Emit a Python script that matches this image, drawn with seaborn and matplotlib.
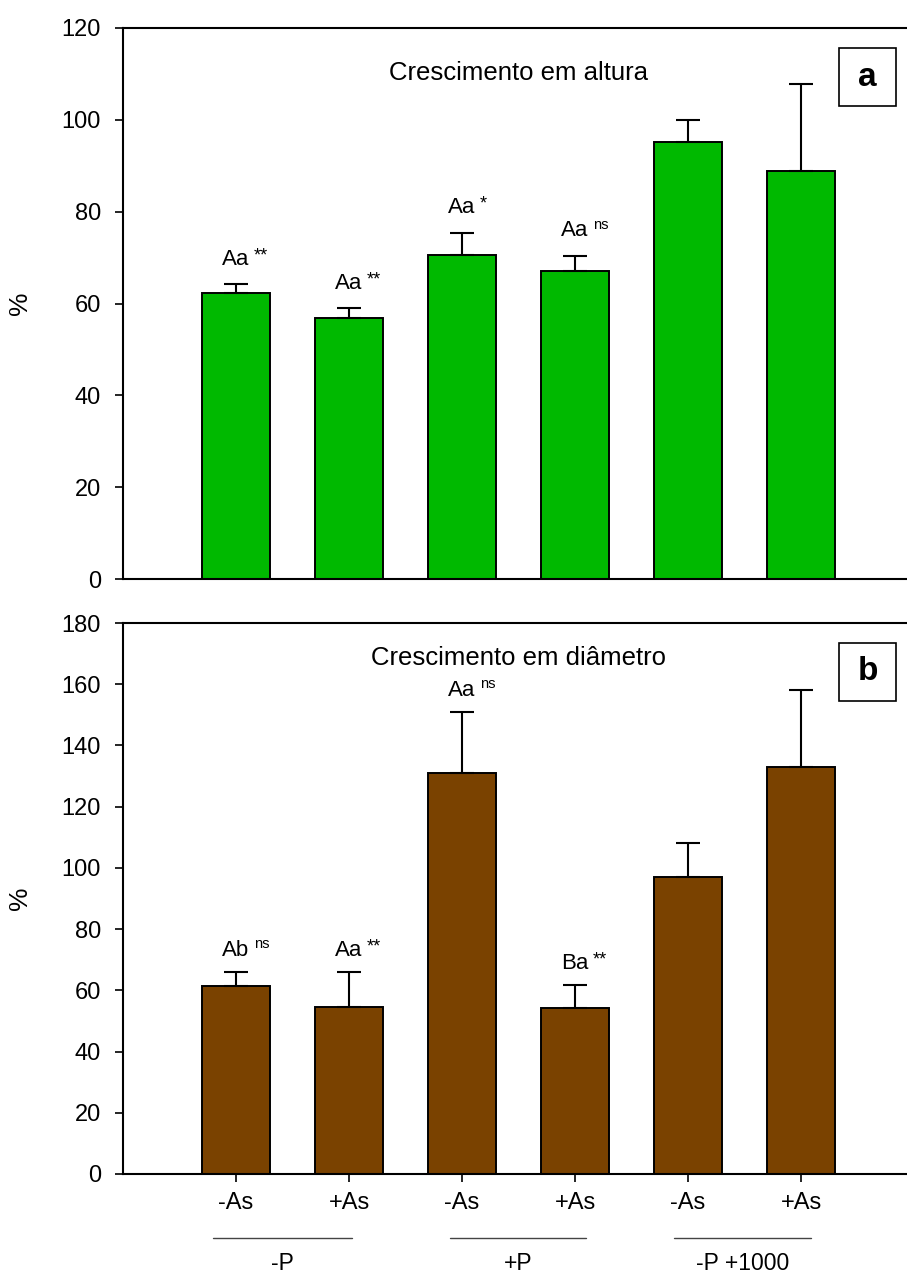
import matplotlib
matplotlib.use("Agg")
import matplotlib.pyplot as plt
import seaborn as sns
import pandas as pd
from matplotlib.patches import Rectangle
from matplotlib.lines import Line2D
from matplotlib.transforms import blended_transform_factory

# ---------------- data ----------------
conditions = ["-P -As", "-P +As", "+P -As", "+P +As", "-P +1000 -As", "-P +1000 +As"]
tick_labels = ["-As", "+As", "-As", "+As", "-As", "+As"]
groups = ["-P", "+P", "-P +1000"]

height_mean = [62.3, 56.8, 70.6, 67.1, 95.2, 88.9]
height_err = [1.9, 2.2, 4.8, 3.3, 4.8, 18.9]
height_letters = ["Aa", "Aa", "Aa", "Aa", "", ""]
height_sig = ["**", "**", "*", "ns", "", ""]

diam_mean = [61.4, 54.6, 131.0, 54.2, 97.0, 133.0]
diam_err = [4.6, 11.4, 19.9, 7.5, 11.1, 25.1]
diam_letters = ["Ab", "Aa", "Aa", "Ba", "", ""]
diam_sig = ["ns", "**", "ns", "**", "", ""]

# ---------------- style ----------------
sns.set_style("ticks")
plt.rcParams["font.family"] = ["Liberation Sans", "DejaVu Sans"]
plt.rcParams["text.color"] = "black"
plt.rcParams["axes.labelcolor"] = "black"
plt.rcParams["xtick.color"] = "black"
plt.rcParams["ytick.color"] = "black"

W, H = 907, 1277
fig = plt.figure(figsize=(W / 100, H / 100), dpi=100)
fig.patch.set_facecolor("white")

def fx(px):
    return px / W

def fy(px):
    return 1 - px / H

ax1 = fig.add_axes([fx(123), fy(579), fx(914) - fx(123), fy(28) - fy(579)])
ax2 = fig.add_axes([fx(123), fy(1174), fx(914) - fx(123), fy(623) - fy(1174)])

panels = [
    (ax1, height_mean, height_err, height_letters, height_sig, "#00B900",
     "Crescimento em altura", 120, "a", 14.0, 0.905, (48, 106)),
    (ax2, diam_mean, diam_err, diam_letters, diam_sig, "#7A4200",
     "Crescimento em diâmetro", 180, "b", 11.5, 0.924, (643, 701)),
]

for (ax, means, errs, letters, sigs, color, title, ymax, tag,
     lab_off, title_y, box_y) in panels:
    df = pd.DataFrame({"cond": conditions, "val": means})
    sns.barplot(data=df, x="cond", y="val", order=conditions, color=color,
                saturation=1, width=0.6, edgecolor="black", linewidth=1.4,
                errorbar=None, ax=ax, zorder=2)
    xs = list(range(len(conditions)))
    ax.errorbar(xs, means, yerr=[[0] * len(errs), errs], fmt="none",
                ecolor="black", elinewidth=1.5, capsize=8.5, capthick=1.5,
                zorder=3)
    ax.set_xlim(-1, 6)
    ax.set_ylim(0, ymax)
    ax.set_yticks(range(0, ymax + 1, 20))
    ax.set_xlabel("")
    ax.set_ylabel("%", fontsize=19)
    ax.yaxis.set_label_coords(-0.115, 0.5)
    for s in ax.spines.values():
        s.set_linewidth(1.5)
        s.set_color("black")
    ax.tick_params(axis="y", direction="out", length=6, width=1.2,
                   labelsize=17, pad=10, colors="black")
    ax.text(0.5, title_y, title, transform=ax.transAxes, ha="center",
            va="baseline", fontsize=18.5)
    for i in xs:
        if letters[i]:
            top = means[i] + errs[i]
            ax.annotate(letters[i], xy=(i, top), xytext=(0, lab_off),
                        textcoords="offset points", ha="center",
                        va="baseline", fontsize=16)
            star = sigs[i].startswith("*")
            ax.annotate(sigs[i], xy=(i, top),
                        xytext=(13, lab_off + (12.5 if star else 13.5)),
                        textcoords="offset points", ha="left", va="top",
                        fontsize=13 if star else 10.5)
    # panel tag box
    fig.patches.append(Rectangle((fx(839), fy(box_y[1])), fx(896) - fx(839),
                                 fy(box_y[0]) - fy(box_y[1]),
                                 transform=fig.transFigure, facecolor="white",
                                 edgecolor="black", linewidth=1.2, zorder=5))
    fig.text(fx(867.5), fy((box_y[0] + box_y[1]) / 2), tag, ha="center",
             va="center", fontsize=24, fontweight="bold", zorder=6)

ax1.tick_params(axis="x", length=0, labelbottom=False)
ax2.set_xticks(range(len(conditions)))
ax2.set_xticklabels(tick_labels)
ax2.tick_params(axis="x", direction="out", length=6, width=1.2,
                labelsize=17, pad=7, colors="black")

# group lines and labels under bottom panel
trans = blended_transform_factory(ax2.transData, fig.transFigure)
group_spans = [(-0.2, 1.03), (1.89, 3.1), (3.88, 5.09)]
for g, (a, b) in zip(groups, group_spans):
    fig.add_artist(Line2D([a, b], [fy(1238), fy(1238)], transform=trans,
                          color="#444444", linewidth=1.0))
    fig.text((a + b) / 2, fy(1252), g, transform=trans, ha="center",
             va="top", fontsize=16.5)

fig.savefig("out.png", dpi=100, facecolor="white")
